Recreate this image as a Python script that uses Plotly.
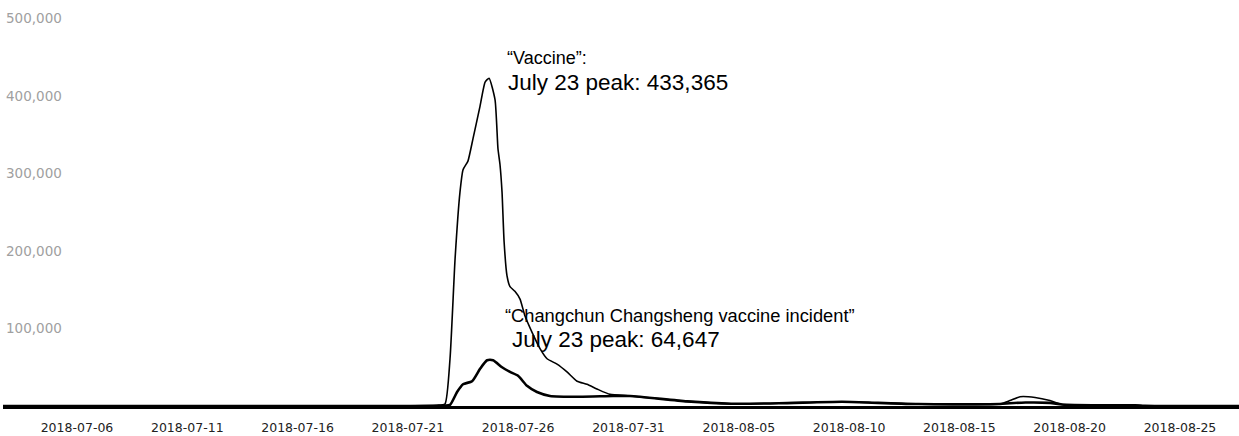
import plotly.graph_objects as go

# ---- data ----
vaccine_dates = [
    "2018-07-02 00:00", "2018-07-15 00:00", "2018-07-22 07:40", "2018-07-22 16:20",
    "2018-07-22 21:50", "2018-07-23 03:20", "2018-07-23 08:40", "2018-07-23 12:00",
    "2018-07-23 17:20", "2018-07-23 22:50", "2018-07-24 06:30", "2018-07-24 12:00",
    "2018-07-24 16:20", "2018-07-24 22:50", "2018-07-25 02:00", "2018-07-25 04:10",
    "2018-07-25 06:25", "2018-07-25 08:40", "2018-07-25 11:50", "2018-07-25 15:05",
    "2018-07-25 20:25", "2018-07-26 02:00", "2018-07-26 07:25", "2018-07-26 15:05",
    "2018-07-26 23:45", "2018-07-27 07:25", "2018-07-27 18:15", "2018-07-28 05:05",
    "2018-07-28 16:05", "2018-07-29 02:50", "2018-07-29 13:40", "2018-07-30 03:50",
    "2018-07-31 01:40", "2018-08-02 15:35", "2018-08-04 15:35", "2018-08-06 19:40",
    "2018-08-09 16:20", "2018-08-11 07:25", "2018-08-13 03:00", "2018-08-16 20:10",
    "2018-08-17 07:00", "2018-08-17 18:00", "2018-08-18 10:20", "2018-08-19 02:30",
    "2018-08-19 15:35", "2018-08-21 08:55", "2018-08-22 23:00", "2018-08-23 09:50",
    "2018-08-28 00:00",
]
vaccine_values = [
    0, 0, 1000, 2500,
    61000, 190000, 276000, 305000,
    316000, 345000, 387000, 418000,
    423000, 395000, 332000, 312000,
    276000, 212000, 168000, 154000,
    148000, 138000, 116000, 95000,
    74000, 61000, 54000, 44000,
    32000, 28000, 22000, 15000,
    13000, 6000, 3000, 3500,
    5500, 4000, 2500, 2500,
    7000, 12000, 11000, 7000,
    2000, 1000, 1000, 200,
    0,
]

changchun_dates = [
    "2018-07-02 00:00", "2018-07-15 00:00", "2018-07-22 16:20", "2018-07-22 21:50",
    "2018-07-23 05:30", "2018-07-23 12:00", "2018-07-23 21:50", "2018-07-24 06:30",
    "2018-07-24 14:10", "2018-07-24 20:40", "2018-07-25 06:25", "2018-07-25 15:05",
    "2018-07-25 23:50", "2018-07-26 09:35", "2018-07-26 20:25", "2018-07-27 10:35",
    "2018-07-28 19:10", "2018-07-30 07:10", "2018-07-31 01:40", "2018-08-02 15:35",
    "2018-08-04 15:35", "2018-08-06 19:40", "2018-08-09 16:20", "2018-08-11 07:25",
    "2018-08-13 03:00", "2018-08-16 20:10", "2018-08-17 07:00", "2018-08-18 00:00",
    "2018-08-19 02:30", "2018-08-19 15:35", "2018-08-21 08:55", "2018-08-22 23:00",
    "2018-08-23 09:50", "2018-08-28 00:00",
]
changchun_values = [
    0, 0, 500, 1500,
    18000, 28000, 32000, 48000,
    59000, 59000, 50000, 44000,
    39000, 26000, 18000, 13000,
    12000, 13000, 13000, 6000,
    3000, 3500, 5500, 4000,
    2500, 2500, 3500, 4500,
    4000, 2000, 1000, 1000,
    200, 0,
]

tick_dates = ["2018-07-06", "2018-07-11", "2018-07-16", "2018-07-21", "2018-07-26",
              "2018-07-31", "2018-08-05", "2018-08-10", "2018-08-15", "2018-08-20",
              "2018-08-25"]
y_ticks = [100000, 200000, 300000, 400000, 500000]
y_tick_labels = ["100,000", "200,000", "300,000", "400,000", "500,000"]

fig = go.Figure()
fig.add_trace(go.Scatter(
    x=vaccine_dates, y=vaccine_values, mode="lines",
    line=dict(color="black", width=1.6, shape="spline", smoothing=0.5),
    name="Vaccine", showlegend=False,
))
fig.add_trace(go.Scatter(
    x=changchun_dates, y=changchun_values, mode="lines",
    line=dict(color="black", width=2.6, shape="spline", smoothing=0.6),
    name="Changchun Changsheng vaccine incident", showlegend=False,
))

ann_font = "Liberation Sans, Arial, sans-serif"
annotations = [
    dict(text="“Vaccine”:", x=0.4061, y=0.857, size=18),
    dict(text="July 23 peak: 433,365", x=0.407, y=0.798, size=22.5),
    dict(text="“Changchun Changsheng vaccine incident”", x=0.4045, y=0.222, size=18.3),
    dict(text="July 23 peak: 64,647", x=0.4102, y=0.163, size=22.5),
]
for a in annotations:
    fig.add_annotation(
        text=a["text"], x=a["x"], y=a["y"], xref="paper", yref="paper",
        xanchor="left", yanchor="middle", showarrow=False,
        font=dict(family=ann_font, size=a["size"], color="black"),
    )

fig.update_layout(
    width=1239, height=436,
    margin=dict(l=3, r=0, t=0, b=30),
    paper_bgcolor="white", plot_bgcolor="white",
    xaxis=dict(
        type="date",
        range=["2018-07-02 15:30", "2018-08-27 16:12"],
        tickvals=tick_dates, ticktext=tick_dates,
        showgrid=False, zeroline=False,
        showline=True, linecolor="black", linewidth=3,
        ticks="", ticklabelstandoff=8,
        tickfont=dict(family="DejaVu Sans", size=12.5, color="#222"),
    ),
    yaxis=dict(
        range=[0, 523900],
        tickvals=y_ticks, ticktext=y_tick_labels,
        showgrid=False, zeroline=False, showline=False,
        ticks="", ticklabelposition="inside",
        tickfont=dict(family="DejaVu Sans", size=13.5, color="#a0a0a0"),
    ),
)

fig.write_html(
    "out.html",
    config={"displayModeBar": False},
    post_script="document.body.style.margin='0px';document.body.style.overflow='hidden';",
)
